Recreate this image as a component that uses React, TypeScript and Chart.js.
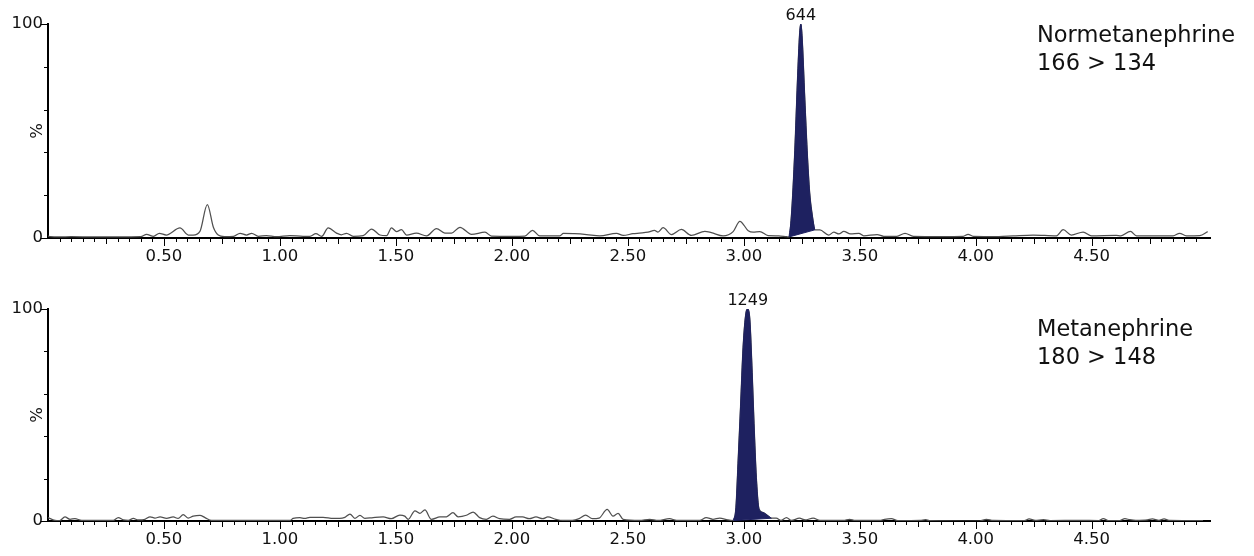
import React, { useEffect, useRef } from 'react';
import { Chart, registerables } from 'chart.js';

Chart.register(...registerables);

const FONT = '"DejaVu Sans", Verdana, sans-serif';

// ---------- axis labels ----------
const xTickLabels = ['0.50', '1.00', '1.50', '2.00', '2.50', '3.00', '3.50', '4.00', '4.50'];
const yTickValues = [0, 50, 100];
const yTickLabels = ['0', '%', '100'];

// ---------- Normetanephrine 166 > 134 ----------
const normName = ['Normetanephrine', '166 > 134'];
const normPeakLabel = '644';
const normPeakRange = [3.195, 3.306];
const normTime = [
  0.000, 0.010, 0.050, 0.100, 0.200, 0.300, 0.400, 0.425, 0.455, 0.480,
  0.510, 0.569, 0.605, 0.626, 0.655, 0.687, 0.713, 0.734, 0.760, 0.800,
  0.828, 0.856, 0.878, 0.907, 0.942, 0.985, 1.043, 1.100, 1.129, 1.155,
  1.180, 1.208, 1.244, 1.265, 1.287, 1.316, 1.359, 1.395, 1.431, 1.460,
  1.481, 1.503, 1.524, 1.546, 1.588, 1.632, 1.675, 1.711, 1.740, 1.776,
  1.826, 1.884, 1.912, 2.000, 2.056, 2.089, 2.120, 2.207, 2.222, 2.270,
  2.322, 2.379, 2.451, 2.480, 2.522, 2.550, 2.587, 2.615, 2.630, 2.652,
  2.688, 2.731, 2.774, 2.832, 2.860, 2.911, 2.954, 2.983, 3.019, 3.040,
  3.069, 3.105, 3.150, 3.184, 3.195, 3.205, 3.220, 3.231, 3.241, 3.246,
  3.251, 3.263, 3.273, 3.284, 3.296, 3.306, 3.328, 3.366, 3.388, 3.410,
  3.431, 3.460, 3.496, 3.517, 3.575, 3.603, 3.660, 3.695, 3.731, 3.850,
  3.946, 3.967, 3.989, 4.100, 4.161, 4.247, 4.347, 4.377, 4.412, 4.463,
  4.499, 4.606, 4.626, 4.667, 4.693, 4.851, 4.879, 4.908, 4.966, 5.000,
];
const normSignal = [
  1.0, 0.6, 0.5, 0.6, 0.5, 0.5, 0.6, 1.7, 0.8, 2.2,
  1.4, 4.7, 1.4, 1.4, 3.1, 15.6, 5.0, 1.4, 0.7, 0.8,
  2.2, 1.4, 2.2, 0.8, 1.1, 0.6, 1.1, 0.8, 0.8, 2.0,
  0.8, 4.7, 2.3, 1.5, 2.2, 0.8, 1.1, 4.2, 1.4, 1.1,
  4.7, 3.0, 3.9, 1.4, 2.3, 1.0, 4.4, 2.3, 2.3, 5.0,
  1.7, 2.7, 0.9, 0.8, 0.9, 3.6, 1.0, 1.0, 2.2, 2.0,
  1.6, 1.0, 2.2, 1.2, 2.0, 2.3, 2.7, 3.6, 2.8, 4.8,
  1.6, 4.0, 1.2, 3.1, 2.5, 1.0, 3.0, 7.8, 3.4, 2.7,
  3.0, 1.1, 1.0, 0.6, 0.5, 10.0, 41.0, 72.6, 96.0, 100.0,
  94.5, 64.8, 41.0, 21.0, 10.0, 3.8, 3.8, 1.4, 2.7, 1.9,
  3.1, 1.9, 2.2, 1.0, 1.6, 0.8, 0.8, 2.2, 0.8, 0.7,
  0.8, 1.7, 0.8, 0.7, 1.0, 1.4, 1.0, 3.9, 1.4, 2.8,
  1.0, 1.2, 1.0, 3.1, 1.0, 1.0, 2.2, 1.0, 1.1, 3.0,
];

// ---------- Metanephrine 180 > 148 ----------
const metaName = ['Metanephrine', '180 > 148'];
const metaPeakLabel = '1249';
const metaPeakRange = [2.954, 3.119];
const metaTime = [
  0.000, 0.030, 0.050, 0.073, 0.095, 0.116, 0.145, 0.281, 0.303, 0.325,
  0.346, 0.368, 0.389, 0.418, 0.440, 0.461, 0.483, 0.511, 0.540, 0.561,
  0.583, 0.605, 0.626, 0.655, 0.677, 0.705, 1.043, 1.057, 1.086, 1.107,
  1.129, 1.186, 1.230, 1.258, 1.280, 1.302, 1.323, 1.345, 1.366, 1.402,
  1.445, 1.480, 1.517, 1.538, 1.553, 1.582, 1.603, 1.625, 1.653, 1.690,
  1.718, 1.746, 1.768, 1.804, 1.833, 1.861, 1.890, 1.918, 1.947, 1.990,
  2.018, 2.046, 2.075, 2.104, 2.133, 2.155, 2.190, 2.218, 2.261, 2.290,
  2.318, 2.347, 2.376, 2.411, 2.436, 2.458, 2.480, 2.551, 2.594, 2.630,
  2.680, 2.710, 2.810, 2.838, 2.867, 2.896, 2.931, 2.954, 2.966, 2.975,
  2.986, 2.997, 3.009, 3.017, 3.026, 3.036, 3.044, 3.054, 3.066, 3.083,
  3.105, 3.119, 3.140, 3.160, 3.184, 3.205, 3.240, 3.265, 3.299, 3.328,
  3.430, 3.456, 3.480, 3.586, 3.607, 3.636, 3.664, 3.760, 3.784, 3.800,
  4.017, 4.046, 4.075, 4.210, 4.230, 4.256, 4.292, 4.320, 4.447, 4.530,
  4.550, 4.572, 4.620, 4.643, 4.664, 4.690, 4.740, 4.761, 4.790, 4.812,
  4.833, 4.980,
];
const metaSignal = [
  1.6, 0.3, 0.2, 1.9, 0.8, 1.1, 0.3, 0.3, 1.6, 0.5,
  0.3, 1.2, 0.5, 0.8, 2.0, 1.4, 1.9, 1.2, 1.9, 1.2,
  3.0, 1.4, 2.3, 2.7, 1.6, 0.3, 0.3, 1.2, 1.6, 1.2,
  1.7, 1.7, 1.2, 1.2, 1.7, 3.3, 1.2, 2.7, 1.2, 1.6,
  1.9, 1.1, 2.8, 2.3, 0.8, 4.8, 3.6, 5.2, 0.8, 1.9,
  2.0, 3.9, 2.0, 2.7, 4.2, 1.6, 0.8, 2.3, 1.1, 0.8,
  1.9, 1.9, 1.1, 1.9, 1.1, 1.9, 0.8, 0.3, 0.3, 1.1,
  2.8, 1.1, 1.4, 5.5, 2.3, 3.6, 0.8, 0.3, 0.8, 0.3,
  1.1, 0.3, 0.3, 1.6, 0.8, 1.4, 0.5, 0.2, 6.3, 27.0,
  54.0, 82.0, 98.0, 100.0, 95.0, 70.0, 46.0, 20.5, 5.5, 4.0,
  2.4, 1.3, 1.3, 0.3, 1.6, 0.3, 1.3, 0.5, 1.4, 0.3,
  0.3, 0.8, 0.3, 0.3, 0.8, 1.1, 0.2, 0.3, 0.6, 0.2,
  0.0, 0.8, 0.3, 0.2, 1.0, 0.3, 0.6, 0.2, 0.3, 0.2,
  1.1, 0.2, 0.2, 1.1, 0.6, 0.3, 0.5, 1.0, 0.3, 1.0,
  0.3, 0.2,
];

const X_MIN = 0;
const X_MAX = 5.01;
const TRACE_COLOR = '#505050';
const PEAK_COLOR = '#1e2160';

const decorPlugin = {
  id: 'decor',
  afterDraw(chart: any, _args: any, opts: any) {
    const { ctx, chartArea } = chart;
    const xs = chart.scales.x;
    const ys = chart.scales.y;
    ctx.save();
    ctx.strokeStyle = '#000';
    ctx.lineWidth = 1;
    ctx.beginPath();
    xs.ticks.forEach((t: any) => {
      const k = Math.round(t.value * 100);
      if (k % 5 !== 0 || k <= 0) return;
      const len = k % 50 === 0 ? 7 : k % 25 === 0 ? 5 : 3;
      const px = Math.round(xs.getPixelForValue(t.value)) + 0.5;
      ctx.moveTo(px, chartArea.bottom);
      ctx.lineTo(px, chartArea.bottom + 1 + len);
    });
    ys.ticks.forEach((t: any) => {
      const v = Math.round(t.value);
      const len = v === 0 || v === 100 ? 6 : 3;
      const py = Math.round(ys.getPixelForValue(t.value)) + 0.5;
      ctx.moveTo(chartArea.left, py);
      ctx.lineTo(chartArea.left - 1 - len, py);
    });
    ctx.stroke();

    // rotated "%" label
    const idx = yTickLabels.indexOf('%');
    const py = ys.getPixelForValue(yTickValues[idx]);
    ctx.fillStyle = '#111';
    ctx.font = `16.5px ${FONT}`;
    ctx.translate(chartArea.left - 6, py);
    ctx.rotate(-Math.PI / 2);
    ctx.textAlign = 'center';
    ctx.textBaseline = 'alphabetic';
    ctx.fillText('%', 0, 0);
    ctx.restore();

    // apex label
    ctx.save();
    ctx.fillStyle = '#111';
    ctx.font = `16px ${FONT}`;
    ctx.textAlign = 'center';
    ctx.textBaseline = 'alphabetic';
    ctx.fillText(opts.label, xs.getPixelForValue(opts.apexX), ys.getPixelForValue(opts.apexY) - 4);
    ctx.restore();
  },
};

type PanelProps = {
  time: number[];
  signal: number[];
  peakRange: number[];
  peakLabel: string;
  name: string[];
  top: number;
  height: number;
  padTop: number;
  xHeight: number;
  nameTop: number;
};

function Panel(p: PanelProps) {
  const ref = useRef<HTMLCanvasElement | null>(null);
  useEffect(() => {
    const canvas = ref.current;
    if (!canvas) return;
    const trace = p.time.map((t, i) => ({ x: t, y: p.signal[i] }));
    const peak = trace.filter((pt) => pt.x >= p.peakRange[0] - 1e-9 && pt.x <= p.peakRange[1] + 1e-9);
    const base = [peak[0], peak[peak.length - 1]];
    let apexI = 0;
    p.signal.forEach((v, i) => {
      if (v > p.signal[apexI]) apexI = i;
    });
    const chart = new Chart(canvas, {
      type: 'line',
      data: {
        datasets: [
          {
            data: peak,
            borderColor: PEAK_COLOR,
            backgroundColor: PEAK_COLOR,
            borderWidth: 1,
            fill: 2,
            cubicInterpolationMode: 'monotone',
            pointRadius: 0,
          },
          {
            data: trace,
            borderColor: TRACE_COLOR,
            borderWidth: 1.25,
            fill: false,
            cubicInterpolationMode: 'monotone',
            pointRadius: 0,
          },
          {
            data: base,
            borderColor: PEAK_COLOR,
            borderWidth: 1,
            fill: false,
            pointRadius: 0,
          },
        ],
      } as any,
      options: {
        responsive: false,
        animation: false,
        events: [],
        layout: { padding: { left: 0, right: 44, top: p.padTop, bottom: 0 } },
        plugins: {
          legend: { display: false },
          tooltip: { enabled: false },
          decor: { label: p.peakLabel, apexX: p.time[apexI], apexY: p.signal[apexI] },
        } as any,
        scales: {
          x: {
            type: 'linear',
            min: X_MIN,
            max: X_MAX,
            border: { display: true, color: '#000', width: 2 },
            grid: { display: false, drawTicks: false },
            ticks: {
              stepSize: 0.05,
              autoSkip: false,
              maxRotation: 0,
              minRotation: 0,
              padding: 9,
              color: '#111',
              font: { family: FONT, size: 16.5 },
              callback: (v: any) => {
                const s = Number(v).toFixed(2);
                return xTickLabels.includes(s) ? s : '';
              },
            },
            afterFit: (s: any) => {
              s.height = p.xHeight;
            },
          },
          y: {
            min: 0,
            max: 100,
            border: { display: true, color: '#000', width: 2 },
            grid: { display: false, drawTicks: false },
            ticks: {
              stepSize: 10,
              padding: 5,
              color: '#111',
              font: { family: FONT, size: 16.5 },
              callback: (v: any) => {
                const i = yTickValues.indexOf(Math.round(Number(v)));
                return i >= 0 && yTickLabels[i] !== '%' ? yTickLabels[i] : '';
              },
            },
            afterFit: (s: any) => {
              s.width = 48;
            },
          },
        },
      } as any,
      plugins: [decorPlugin as any],
    });
    return () => chart.destroy();
  }, []);
  return (
    <>
      <canvas
        ref={ref}
        width={1254}
        height={p.height}
        style={{ position: 'absolute', left: 0, top: p.top, width: 1254, height: p.height }}
      />
      <div
        style={{
          position: 'absolute',
          left: 1037,
          top: p.nameTop,
          fontFamily: FONT,
          fontSize: 22.5,
          lineHeight: '28px',
          color: '#111',
          whiteSpace: 'nowrap',
        }}
      >
        {p.name.map((l, i) => (
          <div key={i}>{l}</div>
        ))}
      </div>
    </>
  );
}

export default function App() {
  return (
    <div style={{ position: 'fixed', left: 0, top: 0, width: 1254, height: 556, background: '#fff', overflow: 'hidden' }}>
      <Panel
        time={normTime}
        signal={normSignal}
        peakRange={normPeakRange}
        peakLabel={normPeakLabel}
        name={normName}
        top={0}
        height={280}
        padTop={24}
        xHeight={42}
        nameTop={20}
      />
      <Panel
        time={metaTime}
        signal={metaSignal}
        peakRange={metaPeakRange}
        peakLabel={metaPeakLabel}
        name={metaName}
        top={280}
        height={276}
        padTop={29}
        xHeight={35}
        nameTop={314}
      />
    </div>
  );
}
